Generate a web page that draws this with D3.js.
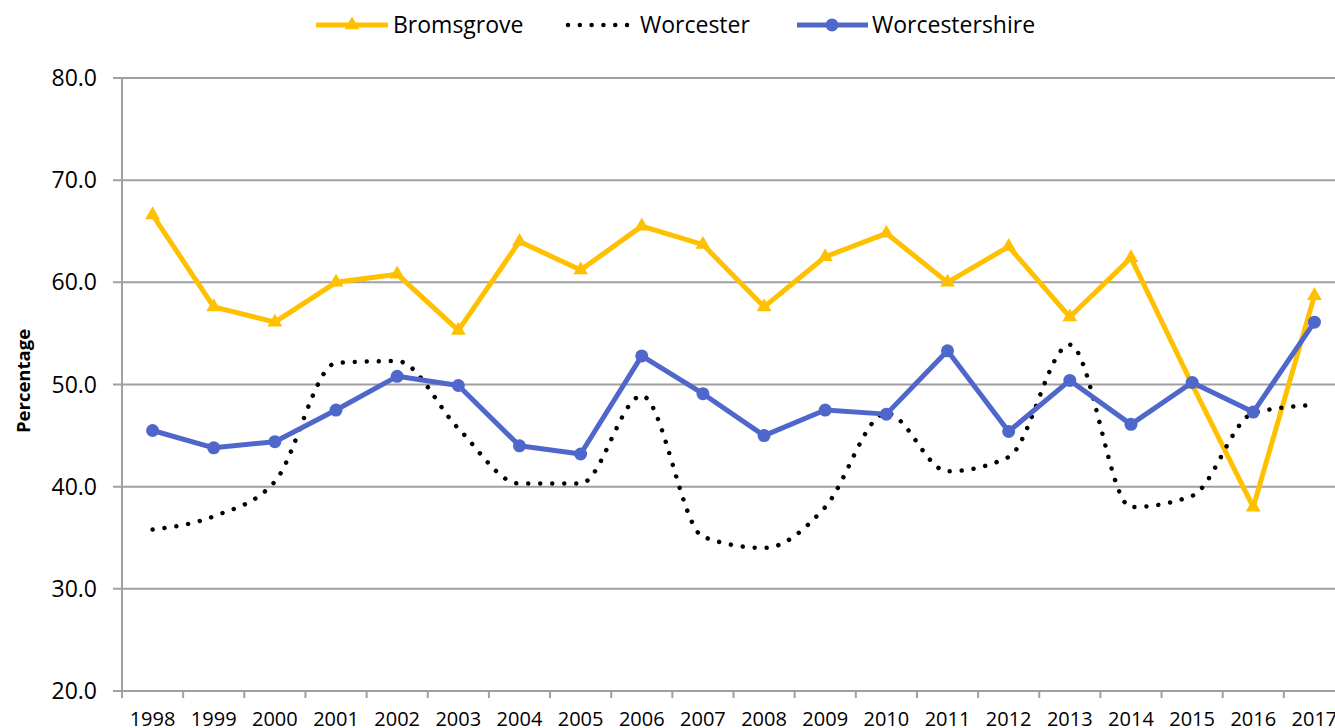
<!DOCTYPE html>
<html>
<head>
<meta charset="utf-8">
<script src="https://cdn.jsdelivr.net/npm/d3@7"></script>
<style>
  body { margin: 0; background: #fff; overflow: hidden; }
  text { font-family: "Open Sans", sans-serif; fill: #000; }
</style>
</head>
<body>
<script>
var years = ['1998','1999','2000','2001','2002','2003','2004','2005','2006','2007',
             '2008','2009','2010','2011','2012','2013','2014','2015','2016','2017'];

var bromsgrove = [66.6, 57.6, 56.1, 60.0, 60.8, 55.3, 64.0, 61.2, 65.5, 63.7,
                  57.6, 62.5, 64.8, 60.0, 63.5, 56.6, 62.4, 50.0, 38.0, 58.7];

var worcester = [35.8, 37.1, 40.5, 52.1, 52.3, 45.7, 40.3, 40.3, 48.9, 35.1,
                 34.0, 38.0, 47.2, 41.5, 42.9, 53.9, 38.0, 39.1, 47.2, 48.0];

var worcestershire = [45.5, 43.8, 44.4, 47.5, 50.8, 49.9, 44.0, 43.2, 52.8, 49.1,
                      45.0, 47.5, 47.1, 53.3, 45.4, 50.4, 46.1, 50.2, 47.3, 56.1];

var yTicks = [20, 30, 40, 50, 60, 70, 80];

var width = 1335, height = 728;
var plotLeft = 122, plotTop = 78, plotBottom = 691, band = 61.15;

var svg = d3.select('body')
    .append('svg')
    .attr('width', width)
    .attr('height', height);

var x = d3.scaleBand()
    .domain(years)
    .range([plotLeft, plotLeft + band * years.length]);

var y = d3.scaleLinear()
    .domain([20, 80])
    .range([plotBottom, plotTop]);

var cx = function(d, i) { return x(years[i]) + x.bandwidth() / 2; };

// gridlines
svg.append('g')
    .selectAll('line')
    .data(yTicks)
    .enter()
    .append('line')
    .attr('x1', plotLeft - 9)
    .attr('x2', width)
    .attr('y1', function(d) { return y(d); })
    .attr('y2', function(d) { return y(d); })
    .attr('stroke', '#a0a0a0')
    .attr('stroke-width', 2);

// y axis line
svg.append('line')
    .attr('x1', plotLeft).attr('x2', plotLeft)
    .attr('y1', plotTop).attr('y2', plotBottom + 7)
    .attr('stroke', '#a0a0a0')
    .attr('stroke-width', 2);

// y labels
svg.append('g')
    .selectAll('text')
    .data(yTicks)
    .enter()
    .append('text')
    .attr('x', 97)
    .attr('y', function(d) { return y(d) + 8; })
    .attr('text-anchor', 'end')
    .style('font-size', '23px')
    .text(d3.format('.1f'));

// x tick marks at category edges
svg.append('g')
    .selectAll('line')
    .data(years)
    .enter()
    .append('line')
    .attr('x1', function(d) { return x(d) + x.bandwidth(); })
    .attr('x2', function(d) { return x(d) + x.bandwidth(); })
    .attr('y1', plotBottom)
    .attr('y2', plotBottom + 7)
    .attr('stroke', '#a0a0a0')
    .attr('stroke-width', 2);

// x labels
svg.append('g')
    .selectAll('text')
    .data(years)
    .enter()
    .append('text')
    .attr('x', function(d) { return x(d) + x.bandwidth() / 2; })
    .attr('y', 726)
    .attr('text-anchor', 'middle')
    .style('font-size', '20px')
    .text(function(d) { return d; });

// axis title
svg.append('text')
    .attr('transform', 'translate(30,381) rotate(-90)')
    .attr('text-anchor', 'middle')
    .style('font-size', '18.5px')
    .style('font-weight', 'bold')
    .text('Percentage');

var line = d3.line()
    .x(cx)
    .y(function(d) { return y(d); });

var yellow = '#ffc000', blue = '#4f67cb';
var tri = d3.symbol().type(d3.symbolTriangle).size(95);

// Bromsgrove
svg.append('path')
    .datum(bromsgrove)
    .attr('d', line)
    .attr('fill', 'none')
    .attr('stroke', yellow)
    .attr('stroke-width', 5)
    .attr('stroke-linejoin', 'round');

svg.append('g')
    .selectAll('path')
    .data(bromsgrove)
    .enter()
    .append('path')
    .attr('d', tri)
    .attr('transform', function(d, i) { return 'translate(' + cx(d, i) + ',' + y(d) + ')'; })
    .attr('fill', yellow);

// Worcester (smoothed, round dots)
svg.append('path')
    .datum(worcester)
    .attr('d', line.curve(d3.curveMonotoneX))
    .attr('fill', 'none')
    .attr('stroke', '#000')
    .attr('stroke-width', 4.5)
    .attr('stroke-linecap', 'round')
    .attr('stroke-dasharray', '0.01 12');

line.curve(d3.curveLinear);

// Worcestershire
svg.append('path')
    .datum(worcestershire)
    .attr('d', line)
    .attr('fill', 'none')
    .attr('stroke', blue)
    .attr('stroke-width', 5)
    .attr('stroke-linejoin', 'round');

svg.append('g')
    .selectAll('circle')
    .data(worcestershire)
    .enter()
    .append('circle')
    .attr('cx', cx)
    .attr('cy', function(d) { return y(d); })
    .attr('r', 6.5)
    .attr('fill', blue);

// legend
var legend = svg.append('g');
var ly = 25;

legend.append('line')
    .attr('x1', 316).attr('x2', 388).attr('y1', ly).attr('y2', ly)
    .attr('stroke', yellow).attr('stroke-width', 5);
legend.append('path')
    .attr('d', tri)
    .attr('transform', 'translate(352,' + ly + ')')
    .attr('fill', yellow);
legend.append('text')
    .attr('x', 393).attr('y', ly + 8)
    .style('font-size', '23px')
    .text('Bromsgrove');

legend.append('line')
    .attr('x1', 568).attr('x2', 628).attr('y1', ly).attr('y2', ly)
    .attr('stroke', '#000').attr('stroke-width', 4.5)
    .attr('stroke-linecap', 'round')
    .attr('stroke-dasharray', '0.01 11.8');
legend.append('text')
    .attr('x', 640).attr('y', ly + 8)
    .style('font-size', '23px')
    .text('Worcester');

legend.append('line')
    .attr('x1', 797).attr('x2', 868).attr('y1', ly).attr('y2', ly)
    .attr('stroke', blue).attr('stroke-width', 5);
legend.append('circle')
    .attr('cx', 832).attr('cy', ly).attr('r', 6.5)
    .attr('fill', blue);
legend.append('text')
    .attr('x', 872).attr('y', ly + 8)
    .style('font-size', '23px')
    .text('Worcestershire');
</script>
</body>
</html>
